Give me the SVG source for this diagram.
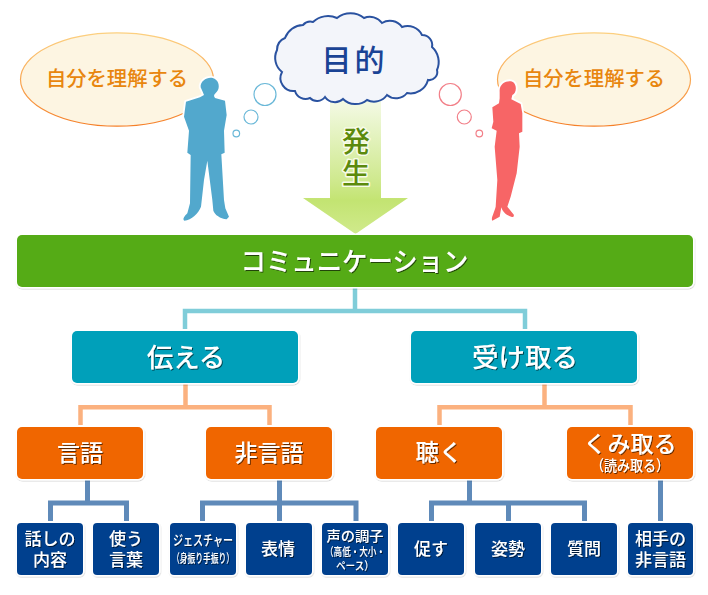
<svg xmlns="http://www.w3.org/2000/svg" width="708" height="595" viewBox="0 0 708 595">
<defs>
<linearGradient id="ell" x1="0" y1="0" x2="0" y2="1"><stop offset="0" stop-color="#fcd080"/><stop offset="1" stop-color="#f57f28"/></linearGradient>
<linearGradient id="arr" gradientUnits="userSpaceOnUse" x1="0" y1="100" x2="0" y2="234"><stop offset="0" stop-color="#f4fae6"/><stop offset=".6" stop-color="#cfe98e"/><stop offset=".75" stop-color="#c3e472"/><stop offset="1" stop-color="#d0ea8c"/></linearGradient>
<filter id="ts" x="-20%" y="-30%" width="140%" height="160%"><feDropShadow dx="1" dy="1" stdDeviation=".7" flood-color="#000" flood-opacity=".6"/></filter>
<filter id="bs" x="-5%" y="-5%" width="110%" height="115%"><feDropShadow dx="0.5" dy="1" stdDeviation=".6" flood-color="#000" flood-opacity=".16"/></filter>
</defs>
<style>
text{font-family:"Noto Sans CJK JP","Noto Sans CJK SC",sans-serif;text-anchor:middle}
.w{fill:#fff;filter:url(#ts);font-weight:500}
.box{stroke:#fff;stroke-width:3;paint-order:stroke;filter:url(#bs)}
.c1,.c2,.c3{fill:none}
.c1{stroke:#80cdd9;stroke-width:4.5}
.c2{stroke:#fbb17f;stroke-width:4.5}
.c3{stroke:#5f8ab9;stroke-width:5}
.ell{fill:#fdf5e2;stroke:url(#ell);stroke-width:1.2}
.et{fill:#e8860e;font-size:20.3px;font-weight:500}
.g{fill:#54ab14}.t{fill:#00a0ba}.o{fill:#f06600}.n{fill:#03408e}
.ar{fill:#5b8a0c;stroke:#f7fbe8;stroke-width:3;stroke-linejoin:round;paint-order:stroke;font-size:28px;font-weight:500}
.ring1{fill:#fff;stroke:#6ab8d8;stroke-width:1.2}
.ring2{fill:#fff;stroke:#f27f88;stroke-width:1.2}
.fig{stroke:#fff;stroke-width:11;stroke-linejoin:round;paint-order:stroke}
</style>
<g id="bubble-left"><ellipse class="ell" cx="117" cy="79.5" rx="96.5" ry="46.7"/><text class="et" x="117" y="86">自分を理解する</text></g>
<g id="bubble-right"><ellipse class="ell" cx="594" cy="79.5" rx="96.5" ry="46.7"/><text class="et" x="594" y="86">自分を理解する</text></g>
<g id="arrow"><path fill="url(#arr)" d="M330 98H381V198H408L355.500 234L303 198H330Z"/><text class="ar" x="356" y="152">発</text><text class="ar" x="356" y="184">生</text></g>
<g id="cloud"><path fill="#f3f5fa" stroke="#2a52a0" stroke-width="2" d="M295 91A13 13 0 0 1 282 72A18 18 0 0 1 277 50A13 13 0 0 1 285 38A20 20 0 0 1 303 25A10 10 0 0 1 313 22A22 22 0 0 1 337 18A22 22 0 0 1 364 18A15 15 0 0 1 382 23A15 15 0 0 1 402 27A16 16 0 0 1 422 35A10 10 0 0 1 432 47A20 20 0 0 1 437 70A8 8 0 0 1 428 80A18 18 0 0 1 407 93A14 14 0 0 1 387 95A16 16 0 0 1 367 100A18 18 0 0 1 343 99A12 12 0 0 1 325 97A10 10 0 0 1 310 98A11 11 0 0 1 295 91Z"/><text x="354.500" y="71" font-size="30" font-weight="500" letter-spacing="3" fill="#1a4395">目的</text></g>
<g id="man"><circle class="ring1" cx="265" cy="94.500" r="11"/><circle class="ring1" cx="251" cy="117" r="7"/><circle class="ring1" cx="236.300" cy="133.500" r="3.300"/>
<path class="fig" fill="#52a8cd" transform="scale(.33333)" d="M602 262C600 243 622 230 638 234C655 238 660 258 654 270C650 278 642 282 642 288L645 294L675 302L680 345L672 392L674 458L664 463L672 600L676 625L687 650L680 658C660 655 645 645 640 632L637 600L622 482L612 540L603 620C595 640 575 660 553 662C547 658 552 650 562 640L570 610L572 465L562 458L567 392L552 350L558 305L600 292L612 285L608 275Z"/></g>
<g id="woman"><circle class="ring2" cx="450.300" cy="94.500" r="11"/><circle class="ring2" cx="464.300" cy="117" r="7"/><circle class="ring2" cx="479.300" cy="133.500" r="3.300"/>
<path class="fig" fill="#f76566" transform="matrix(.33333 0 0 .33333 354 0)" d="M437 275C435 250 460 240 475 245C490 252 488 280 475 285L472 298L500 312L505 340L505 395L495 400L497 440L488 520L470 590L460 620L480 645L478 651C460 650 445 635 442 622L437 650L415 662C410 655 420 640 425 620L430 540L422 440L428 392L413 385L418 365L415 322L435 310L437 295Z"/></g>
<g id="connectors">
<path class="c1" d="M355 287V311M185 329V311H525V329"/>
<path class="c2" d="M185.500 383V407.300M80.500 425V407.300H269.500V425M544.500 383V407.300M439.500 425V407.300H630.500V425"/>
<path class="c3" d="M87.500 480V503M50.500 521V503H126.500V521M279.500 480V521M202.500 521V503H356V521M469.500 480V503M431.500 521V503H584.500V521M508.500 503V521M660.500 480V521"/>
</g>
<g id="n-comm"><rect class="box g" x="17" y="235" width="676" height="52" rx="5"/><text class="w" x="354.500" y="271" font-size="26.500" textLength="228" lengthAdjust="spacingAndGlyphs">コミュニケーション</text></g>
<g id="n-tsutaeru"><rect class="box t" x="72" y="331" width="226" height="52" rx="5"/><text class="w" x="186" y="367" font-size="26.500">伝える</text></g>
<g id="n-uketoru"><rect class="box t" x="411" y="331" width="226" height="52" rx="5"/><text class="w" x="525" y="367" font-size="26.500">受け取る</text></g>
<g id="n-gengo"><rect class="box o" x="17" y="427" width="126" height="52" rx="5"/><text class="w" x="80" y="461" font-size="23">言語</text></g>
<g id="n-higengo"><rect class="box o" x="206" y="427" width="126" height="52" rx="5"/><text class="w" x="269" y="461" font-size="23">非言語</text></g>
<g id="n-kiku"><rect class="box o" x="376" y="427" width="126" height="52" rx="5"/><text class="w" x="439" y="461" font-size="23.500">聴く</text></g>
<g id="n-kumitoru"><rect class="box o" x="567" y="427" width="126" height="52" rx="5"/><text class="w" x="630" y="452" font-size="23">くみ取る</text><text class="w" x="630" y="471" font-size="15" textLength="78" lengthAdjust="spacingAndGlyphs">（読み取る）</text></g>
<g id="n-naiyo"><rect class="box n" x="17" y="523" width="66" height="52" rx="4"/><text class="w" x="50" y="545" font-size="17">話しの</text><text class="w" x="50" y="566" font-size="17">内容</text></g>
<g id="n-kotoba"><rect class="box n" x="93" y="523" width="66" height="52" rx="4"/><text class="w" x="126" y="545" font-size="17">使う</text><text class="w" x="126" y="566" font-size="17">言葉</text></g>
<g id="n-gesture"><rect class="box n" x="170" y="523" width="66" height="52" rx="4"/><text class="w" x="203" y="545" font-size="14" textLength="60" lengthAdjust="spacingAndGlyphs">ジェスチャー</text><text class="w" x="203" y="563" font-size="12.500" textLength="62" lengthAdjust="spacingAndGlyphs">（身振り手振り）</text></g>
<g id="n-hyojo"><rect class="box n" x="246" y="523" width="66" height="52" rx="4"/><text class="w" x="278" y="555" font-size="17">表情</text></g>
<g id="n-koe"><rect class="box n" x="322" y="523" width="66" height="52" rx="4"/><text class="w" x="355" y="541" font-size="14" textLength="57" lengthAdjust="spacingAndGlyphs">声の調子</text><text class="w" x="355" y="556" font-size="11.500" textLength="60" lengthAdjust="spacingAndGlyphs">（高低・大小・</text><text class="w" x="355" y="570" font-size="11.500" textLength="38" lengthAdjust="spacingAndGlyphs">ペース）</text></g>
<g id="n-unagasu"><rect class="box n" x="398" y="523" width="66" height="52" rx="4"/><text class="w" x="431" y="555" font-size="17">促す</text></g>
<g id="n-shisei"><rect class="box n" x="475" y="523" width="66" height="52" rx="4"/><text class="w" x="508" y="555" font-size="17">姿勢</text></g>
<g id="n-shitsumon"><rect class="box n" x="551" y="523" width="66" height="52" rx="4"/><text class="w" x="584" y="555" font-size="17">質問</text></g>
<g id="n-aite"><rect class="box n" x="628" y="523" width="65" height="52" rx="4"/><text class="w" x="660.500" y="545" font-size="17">相手の</text><text class="w" x="660.500" y="566" font-size="17">非言語</text></g>
</svg>
